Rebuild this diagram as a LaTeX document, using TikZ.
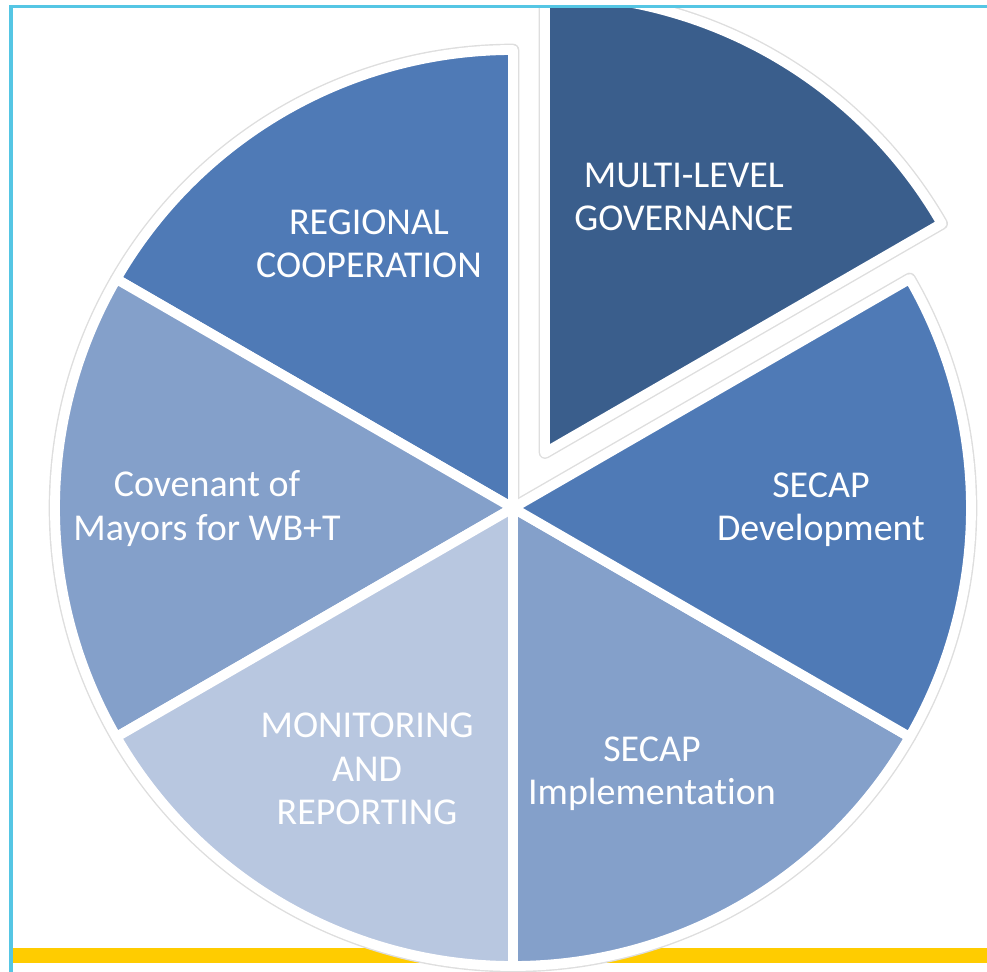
\documentclass[tikz,border=0pt]{standalone}
\usepackage{fontspec}
\setmainfont{Carlito}[Ligatures=NoCommon]
\usepackage{tikz}
\definecolor{waku}{HTML}{55C6E4}
\definecolor{kiiro}{HTML}{FFCC00}
\definecolor{darkblue}{HTML}{3A5E8C}
\definecolor{midblue}{HTML}{4F7AB6}
\definecolor{lightblue}{HTML}{84A0CA}
\definecolor{paleblue}{HTML}{B8C7E0}
\tikzset{
  slice/.style={fill=#1, draw=white, line width=7pt, line join=round},
  shade line/.style={draw=black!13, line width=9pt, line join=round},
  pielabel/.style={text=white, align=center, font=\fontsize{27}{31}\selectfont}
}

\begin{document}
\begin{tikzpicture}
\useasboundingbox (-12.825,-11.6) rectangle (11.85,12.7);
\begin{scope}
\clip (-12.55,-11.6) rectangle (11.85,12.54);
\fill[kiiro] (-12.55,-11.0) rectangle (11.85,-11.375);%黄色の帯
% 影
\foreach \a/\b in {90/150, 150/210, 210/270, 270/330, 330/390}
  \draw[shade line] (0,0) -- (\a:11.45cm) arc (\a:\b:11.45cm) -- cycle;
\draw[shade line] (60:1.6cm) -- ++(30:11.45cm) arc (30:90:11.45cm) -- cycle;
% 扇形
\foreach \a/\b/\c in {90/150/midblue, 150/210/lightblue, 210/270/paleblue, 270/330/lightblue, 330/390/midblue}
  \path[slice=\c] (0,0) -- (\a:11.45cm) arc (\a:\b:11.45cm) -- cycle;
\path[slice=darkblue] (60:1.6cm) -- ++(30:11.45cm) arc (30:90:11.45cm) -- cycle;%飛び出した扇形
\end{scope}
\draw[waku, line width=2.2pt] (-12.55,-11.6) -- (-12.55,12.54) -- (11.85,12.54);%枠
\foreach \angle/\r/\name/\label in
  {118.6/7.52/regional/{REGIONAL\\COOPERATION},
   61.2/8.87/mlg/{MULTI-LEVEL\\GOVERNANCE},
   -0.3/7.70/secapdev/{SECAP\\Development},
   -62.4/7.50/secapimp/{SECAP\\Implementation},
   240.8/7.48/monitor/{MONITORING\\AND\\REPORTING},
   180.1/7.65/covenant/{Covenant of\\Mayors for WB+T}}
  \node[pielabel] (\name) at (\angle:\r cm) {\label};
\end{tikzpicture}
\end{document}
